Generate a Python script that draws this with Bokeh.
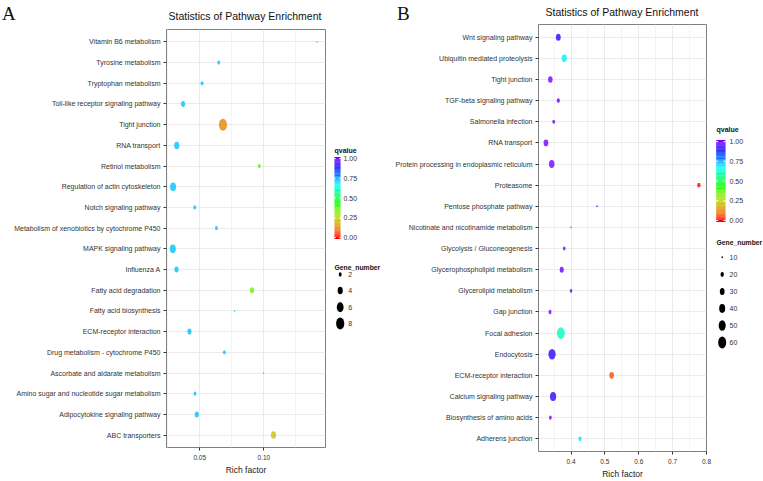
import colorsys
import math
from bokeh.plotting import figure
from bokeh.layouts import row
from bokeh.models import (ColumnDataSource, Range1d, FactorRange, FixedTicker, Div,
                          PrintfTickFormatter)
from bokeh.transform import linear_cmap
from bokeh.core.properties import value
from bokeh.embed import file_html
from bokeh.resources import INLINE

# ---------------- data (top-to-bottom order as displayed) ----------------
pathways_a = ["Vitamin B6 metabolism", "Tyrosine metabolism", "Tryptophan metabolism",
              "Toll-like receptor signaling pathway", "Tight junction", "RNA transport",
              "Retinol metabolism", "Regulation of actin cytoskeleton", "Notch signaling pathway",
              "Metabolism of xenobiotics by cytochrome P450", "MAPK signaling pathway", "Influenza A",
              "Fatty acid degradation", "Fatty acid biosynthesis", "ECM-receptor interaction",
              "Drug metabolism - cytochrome P450", "Ascorbate and aldarate metabolism",
              "Amino sugar and nucleotide sugar metabolism", "Adipocytokine signaling pathway",
              "ABC transporters"]
rich_a = [0.1415, 0.0648, 0.0518, 0.0370, 0.0681, 0.0321, 0.0964, 0.0292, 0.0461, 0.0630,
          0.0290, 0.0319, 0.0907, 0.0772, 0.0420, 0.0692, 0.0998, 0.0463, 0.0477, 0.1075]
genes_a = [1, 2, 2, 3, 8, 4, 2, 5, 2, 2, 5, 3, 3, 1, 3, 2, 1, 2, 3, 4]
q_a = [0.70, 0.72, 0.72, 0.72, 0.13, 0.72, 0.39, 0.72, 0.72, 0.72,
       0.72, 0.72, 0.35, 0.70, 0.72, 0.72, 0.70, 0.72, 0.72, 0.21]

pathways_b = ["Wnt signaling pathway", "Ubiquitin mediated proteolysis", "Tight junction",
              "TGF-beta signaling pathway", "Salmonella infection", "RNA transport",
              "Protein processing in endoplasmic reticulum", "Proteasome", "Pentose phosphate pathway",
              "Nicotinate and nicotinamide metabolism", "Glycolysis / Gluconeogenesis",
              "Glycerophospholipid metabolism", "Glycerolipid metabolism", "Gap junction",
              "Focal adhesion", "Endocytosis", "ECM-receptor interaction", "Calcium signaling pathway",
              "Biosynthesis of amino acids", "Adherens junction"]
rich_b = [0.3625, 0.380, 0.339, 0.3625, 0.349, 0.326, 0.343, 0.7776, 0.4767, 0.400,
          0.380, 0.3726, 0.400, 0.338, 0.370, 0.344, 0.520, 0.347, 0.339, 0.4266]
genes_b = [30, 33, 28, 19, 17, 30, 36, 20, 10, 9, 16, 25, 16, 18, 59, 52, 28, 42, 17, 20]
q_b = [0.92, 0.68, 0.99, 0.98, 0.98, 0.99, 0.99, 0.00, 0.92, 0.99,
       0.98, 0.97, 0.98, 0.99, 0.61, 0.93, 0.07, 0.93, 0.99, 0.69]

q_ticks = [1.00, 0.75, 0.50, 0.25, 0.00]
q_tick_labels = ["1.00", "0.75", "0.50", "0.25", "0.00"]
size_legend_a = [2, 4, 6, 8]
size_legend_b = [10, 20, 30, 40, 50, 60]
TITLE = "Statistics of Pathway Enrichment"

# ---------------- styles ----------------
FONT = "Liberation Sans"
SERIF = "Liberation Serif"
H = 481
TOP = 29       # shared top border (plots in a row share frame borders)
BOTTOM = 34    # shared bottom border
ASPECT = 0.68  # horizontal squeeze of the dots

palette = []
for i in range(256):
    hue = 270.0 * i / 255.0
    v = 1.0 - 0.2 * math.exp(-((hue - 58.0) / 28.0) ** 2)
    r, g, b = colorsys.hsv_to_rgb(hue / 360.0, 1.0, v)
    palette.append("#%02x%02x%02x" % (int(round(r * 255)), int(round(g * 255)), int(round(b * 255))))


def size_a(n):
    return max(1.6, -3.5 + 5.5 * n ** 0.5)


def size_b(n):
    return max(1.6, -4.5 + 2.1 * n ** 0.5)


def panel(pathways, rich, genes, q, xr, ticks, minor, fmt, size_fn, width, height, left, right,
          shift):
    factors = list(reversed(pathways))
    hs = [size_fn(g) for g in genes]
    src = ColumnDataSource(dict(y=pathways, x=rich, q=q, h=hs, w=[v * ASPECT for v in hs]))
    p = figure(width=width, height=height, output_backend="svg", toolbar_location=None,
               x_range=Range1d(*xr),
               y_range=FactorRange(factors=factors, range_padding=0.1, range_padding_units="absolute"),
               min_border_left=left, min_border_top=TOP, min_border_right=right,
               min_border_bottom=BOTTOM)
    if shift:
        p.styles = {"position": "relative", "top": f"{-shift}px",
                    "margin-bottom": f"{-(height - H)}px"}
    p.background_fill_color = "white"
    p.border_fill_color = "white"
    p.outline_line_color = "#7F7F7F"
    p.outline_line_width = 1
    p.xaxis.ticker = FixedTicker(ticks=ticks, minor_ticks=minor)
    p.xaxis.formatter = PrintfTickFormatter(format=fmt)
    p.xgrid.grid_line_color = "#EBEBEB"
    p.xgrid.minor_grid_line_color = "#F4F4F4"
    p.ygrid.grid_line_color = "#EBEBEB"
    for ax in (p.xaxis[0], p.yaxis[0]):
        ax.axis_line_color = None
        ax.major_tick_out = 3
        ax.major_tick_in = 0
        ax.minor_tick_line_color = None
        ax.major_tick_line_color = "#333333"
        ax.major_label_text_font = FONT
        ax.major_label_text_color = "#333333"
    p.yaxis.major_label_text_font_size = "7px"
    p.yaxis.major_label_standoff = 3
    p.xaxis.major_label_text_font_size = "6.5px"
    p.xaxis.major_label_standoff = 3
    p.xaxis.axis_label = "Rich factor"
    p.xaxis.axis_label_text_font = FONT
    p.xaxis.axis_label_text_font_size = "8.5px"
    p.xaxis.axis_label_text_font_style = "normal"
    p.xaxis.axis_label_text_color = "#1A1A1A"
    p.xaxis.axis_label_standoff = 2

    p.ellipse(x="x", y="y", width="w", height="h", width_units="screen", height_units="screen",
              source=src, fill_color=linear_cmap("q", palette, 0, 1), fill_alpha=0.8,
              line_color=None)
    return p


def legend_fig(width, title_xy, bar_x, bar_y0, bar_y1, lab_x, size_title_xy, dot_x, dot_ys,
               lab_dx, sizes, size_fn):
    # frame spans page y TOP .. H-BOTTOM, so data y == page y
    lp = figure(width=width, height=H, output_backend="svg", toolbar_location=None,
                x_range=Range1d(0, width), y_range=Range1d(H - BOTTOM, TOP),
                min_border_left=0, min_border_right=0, min_border_top=TOP, min_border_bottom=BOTTOM)
    lp.axis.visible = False
    lp.grid.visible = False
    lp.outline_line_color = None
    lp.background_fill_color = "white"
    lp.border_fill_color = "white"
    # colour bar
    nb = 100
    span = bar_y0 - bar_y1
    lefts, rights, tops, bottoms, cols = [], [], [], [], []
    for i in range(nb):
        v0 = i / nb
        v1 = (i + 1) / nb
        lefts.append(bar_x[0]); rights.append(bar_x[1])
        bottoms.append(bar_y0 - v0 * span + (1.5 if i == 0 else 0))
        tops.append(bar_y0 - v1 * span - (1.5 if i == nb - 1 else 0))
        cols.append(palette[int((v0 + v1) / 2 * 255)])
    lp.quad(left=lefts, right=rights, top=tops, bottom=bottoms, fill_color=cols, line_color=None)
    tw = (bar_x[1] - bar_x[0]) / 5.0
    ty = [bar_y0 - v * span for v in q_ticks]
    lp.segment(x0=[bar_x[0]] * 5, x1=[bar_x[0] + tw] * 5, y0=ty, y1=ty, line_color="white", line_width=1)
    lp.segment(x0=[bar_x[1] - tw] * 5, x1=[bar_x[1]] * 5, y0=ty, y1=ty, line_color="white", line_width=1)
    lp.text(x=[lab_x] * 5, y=ty, text=q_tick_labels, text_font=value(FONT), text_font_size="7px",
            text_baseline="middle", text_color="#333333")
    lp.text(x=[title_xy[0]], y=[title_xy[1]], text=["qvalue"], text_font=value(FONT),
            text_font_size="7px", text_font_style="bold", text_baseline="middle", text_color="#111111")
    lp.text(x=[size_title_xy[0]], y=[size_title_xy[1]], text=["Gene_number"], text_font=value(FONT),
            text_font_size="6.8px", text_font_style="bold", text_baseline="middle", text_color="#111111")
    hs = [size_fn(s) for s in sizes]
    lp.ellipse(x=[dot_x] * len(sizes), y=dot_ys, width=[v * ASPECT for v in hs], height=hs,
               width_units="screen", height_units="screen", fill_color="black", line_color=None)
    lp.text(x=[dot_x + lab_dx] * len(sizes), y=dot_ys, text=[str(s) for s in sizes],
            text_font=value(FONT), text_font_size="7px", text_baseline="middle", text_color="#333333")
    return lp


def abs_text(txt, left, top, width, font, size, align="left"):
    return Div(text=txt, width=width, height=16,
               styles={"position": "absolute", "left": f"{left}px", "top": f"{top}px",
                       "width": f"{width}px", "text-align": align, "white-space": "nowrap",
                       "font-family": font, "font-size": size, "line-height": "1",
                       "color": "#111111", "margin": "0px", "padding": "0px"})


# panel A: frame at page y 29..447 (418 px)
pa = panel(pathways_a, rich_a, genes_a, q_a, (0.0241, 0.148), [0.05, 0.10], [0.025, 0.075, 0.125],
           "%.2f", size_a, width=332, height=H, left=166, right=7, shift=0)
la = legend_fig(53, (2, 150), (2, 8), 237, 158, 11, (2, 267), 7.7, [274, 290, 306.7, 323], 8,
                size_legend_a, size_a)
# panel B: frame at page y 24..451 (427 px) -> taller canvas lifted by 5 px
pb = panel(pathways_b, rich_b, genes_b, q_b, (0.304, 0.80), [0.4, 0.5, 0.6, 0.7, 0.8],
           [0.35, 0.45, 0.55, 0.65, 0.75], "%.1f", size_b, width=328, height=TOP + 427 + BOTTOM,
           left=153, right=7, shift=5)
lb = legend_fig(50, (3, 129), (2.7, 12), 220, 141, 16, (3, 241.7), 8.7,
                [256.7, 274, 291, 308, 325, 342], 7.3, size_legend_b, size_b)

title_a = abs_text(TITLE, 245 - 100, 11, 200, FONT, "10.5px", "center")
title_b = abs_text(TITLE, 622 - 100, 7, 200, FONT, "10.5px", "center")
letter_a = abs_text("A", 2, 4, 14, SERIF, "19px")
letter_b = abs_text("B", 397, 4, 14, SERIF, "19px")

layout = row(pa, la, pb, lb, title_a, title_b, letter_a, letter_b, spacing=0)
open("out.html", "w").write(file_html(layout, INLINE))
